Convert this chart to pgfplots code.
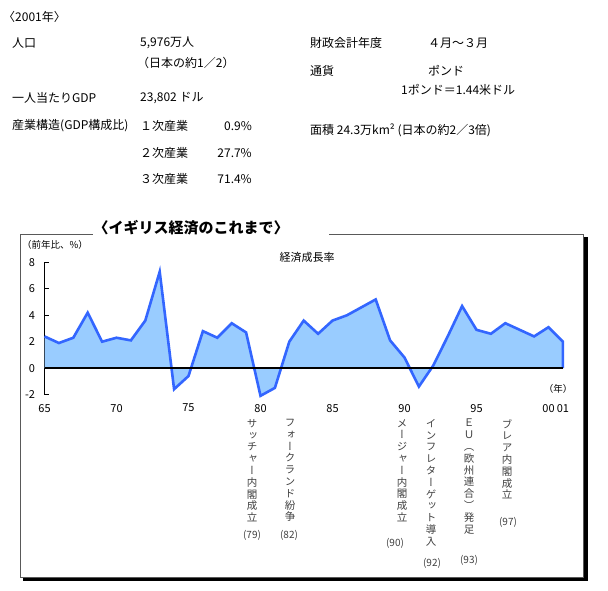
\documentclass[border=0pt]{standalone}
\usepackage{fontspec}
\setmainfont{Noto Sans CJK JP}
\newfontfamily\vfont[RawFeature={+vert}]{Noto Sans CJK JP}
\usepackage{pgfplots}
\pgfplotsset{compat=1.18}
\definecolor{fillblue}{HTML}{99CCFF}
\definecolor{lineblue}{HTML}{3366FF}
\newcommand\fs[1]{\fontsize{#1}{#1}\selectfont}
\newcommand\vfs{\vfont\fontsize{10.5}{11.8}\selectfont}
\begin{document}
\begin{tikzpicture}[x=1pt,y=1pt]
\path (0,0) rectangle (608,590);
% frame with shadow
\fill[black] (23,9) rectangle (588,353);
\draw[fill=white, draw=black!65, line width=0.9pt] (20,13) rectangle (583.5,356);
\fill[white] (93,351) rectangle (329,361);
% top info
\begin{scope}[every node/.style={inner sep=0, font=\fs{12}}]
\node[anchor=west] at (3,573) {〈2001年〉};
\node[anchor=west] at (12,547) {人口};
\node[anchor=west] at (140,547) {5,976万人};
\node[anchor=west] at (137,527) {（日本の約1／2）};
\node[anchor=west] at (12,492) {一人当たりGDP};
\node[anchor=west] at (140,492) {23,802 ドル};
\node[anchor=west] at (12,464) {産業構造(GDP構成比)};
\node[anchor=west] at (140,464) {１次産業};
\node[anchor=east] at (252,464) {0.9\%};
\node[anchor=west] at (140,437) {２次産業};
\node[anchor=east] at (252,437) {27.7\%};
\node[anchor=west] at (140,411) {３次産業};
\node[anchor=east] at (252,411) {71.4\%};
\node[anchor=west] at (310,547) {財政会計年度};
\node[anchor=west] at (428,547) {４月～３月};
\node[anchor=west] at (310,519) {通貨};
\node[anchor=west] at (428,519) {ポンド};
\node[anchor=west] at (401,500) {1ポンド＝1.44米ドル};
\node[anchor=west] at (310,460) {面積 24.3万km² (日本の約2／3倍)};
\end{scope}
\node[inner sep=0, font=\fs{15}\bfseries] at (191,362) {〈イギリス経済のこれまで〉};
\begin{axis}[
  at={(44.5pt,195.5pt)}, anchor=south west,
  scale only axis, width=518.4pt, height=132pt,
  xmin=65, xmax=101, ymin=-2, ymax=8,
  axis x line*=bottom, axis y line*=left,
  x axis line style={draw=none},
  y axis line style={-, line width=0.8pt},
  xtick={65,70,75,80,85,90,95,100,101},
  xticklabels={65,70,75,80,85,90,95,00,01},
  ytick={-2,0,2,4,6,8},
  major x tick style={draw=none},
  major y tick style={line width=0.8pt, black},
  tick align=inside, major tick length=4pt,
  /pgf/number format/assume math mode=true,
  tick label style={font=\fs{11}},
  xticklabel style={yshift=-6pt},
  yticklabel style={xshift=-6pt},
  clip=false,
]
\addplot[fill=fillblue, draw=none] coordinates {
(65,0) (65,2.4) (66,1.9) (67,2.3) (68,4.2) (69,2.0) (70,2.3) (71,2.1) (72,3.6) (73,7.3) (74,-1.6)
(75,-0.6) (76,2.8) (77,2.3) (78,3.4) (79,2.7) (80,-2.1) (81,-1.5) (82,2.0) (83,3.6) (84,2.6)
(85,3.6) (86,4.0) (87,4.6) (88,5.2) (89,2.1) (90,0.8) (91,-1.4) (92,0.2) (93,2.4) (94,4.7)
(95,2.9) (96,2.6) (97,3.4) (98,2.9) (99,2.4) (100,3.1) (101,2.0) (101,0)} -- cycle;
\addplot[lineblue, line width=2.6pt] coordinates {
(65,2.4) (66,1.9) (67,2.3) (68,4.2) (69,2.0) (70,2.3) (71,2.1) (72,3.6) (73,7.3) (74,-1.6)
(75,-0.6) (76,2.8) (77,2.3) (78,3.4) (79,2.7) (80,-2.1) (81,-1.5) (82,2.0) (83,3.6) (84,2.6)
(85,3.6) (86,4.0) (87,4.6) (88,5.2) (89,2.1) (90,0.8) (91,-1.4) (92,0.2) (93,2.4) (94,4.7)
(95,2.9) (96,2.6) (97,3.4) (98,2.9) (99,2.4) (100,3.1) (101,2.0) (101,0)};
\draw[line width=2pt] (axis cs:65,0) -- (axis cs:101,0);
\end{axis}
% chart texts
\node[inner sep=0, font=\fs{9.5}, anchor=west] at (22,345) {（前年比、\%）};
\node[inner sep=0, font=\fs{11}] at (307,333) {経済成長率};
\node[inner sep=0, font=\fs{9.5}] at (558,201) {（年）};
% annotations
\begin{scope}[every node/.style={inner sep=0, align=center, anchor=north, text=black!75, font=\vfs}]
\node at (252,171) {サ\\ッ\\チ\\ャ\\ー\\内\\閣\\成\\立};
\node at (290,171) {フ\\ォ\\ー\\ク\\ラ\\ン\\ド\\紛\\争};
\node at (402,171) {メ\\ー\\ジ\\ャ\\ー\\内\\閣\\成\\立};
\node at (431,171) {イ\\ン\\フ\\レ\\タ\\ー\\ゲ\\ッ\\ト\\導\\入};
\node at (469,171) {Ｅ\\Ｕ\\︵\\欧\\州\\連\\合\\︶\\発\\足};
\node at (507,171) {ブ\\レ\\ア\\内\\閣\\成\\立};
\end{scope}
\begin{scope}[every node/.style={inner sep=0, text=black!75, font=\fs{10}}]
\node at (252,55) {(79)};
\node at (289,55) {(82)};
\node at (395,47) {(90)};
\node at (432,27) {(92)};
\node at (469,30) {(93)};
\node at (508,68) {(97)};
\end{scope}
\end{tikzpicture}
\end{document}
